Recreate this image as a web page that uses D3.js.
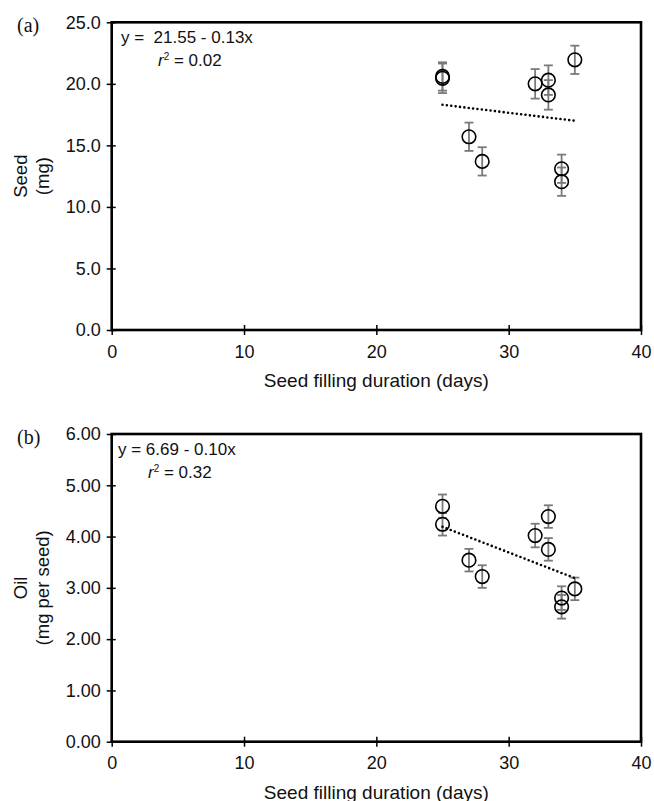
<!DOCTYPE html>
<html>
<head>
<meta charset="utf-8">
<script src="https://cdn.jsdelivr.net/npm/d3@7"></script>
<style>
  html, body { margin: 0; padding: 0; background: #fff; }
  svg { display: block; }
</style>
</head>
<body>
<svg id="chart" width="654" height="801"></svg>
<script>
// Seed filling duration (days) for each genotype / environment
const days = [25, 25, 27, 28, 32, 33, 33, 34, 34, 35];

// Panel (a): seed mass (mg) with standard errors
const seedMg  = [20.6, 20.45, 15.7, 13.7, 20.0, 20.3, 19.1, 13.1, 12.05, 21.95];
const seedErr = [1.15, 1.2, 1.15, 1.15, 1.2, 1.2, 1.2, 1.15, 1.15, 1.15];

// Panel (b): oil content (mg per seed) with standard errors
const oilMg  = [4.59, 4.24, 3.54, 3.22, 4.02, 4.39, 3.75, 2.80, 2.63, 2.98];
const oilErr = [0.23, 0.22, 0.22, 0.22, 0.23, 0.22, 0.22, 0.23, 0.23, 0.22];

// Linear fits printed in each panel
const seedFit = { intercept: 21.55, slope: -0.13, r2: "0.02", eq: "y =  21.55 - 0.13x" };
const oilFit  = { intercept: 6.69,  slope: -0.10, r2: "0.32", eq: "y = 6.69 - 0.10x" };

// Axis ticks
const xTicks = [0, 10, 20, 30, 40];
const seedTicks = [0, 5, 10, 15, 20, 25];
const oilTicks = [0, 1, 2, 3, 4, 5, 6];

const SANS = '"Liberation Sans", Arial, sans-serif';
const SERIF = '"Liberation Serif", "Times New Roman", serif';
const INK = "#111";

const svg = d3.select("#chart");

function panel(cfg) {
  const x = d3.scaleLinear().domain([0, 40]).range([111.7, 641]);
  const y = d3.scaleLinear().domain(cfg.yDomain).range([cfg.bottom, cfg.top]);
  const g = svg.append("g");

  // x axis with ticks crossing the line
  const xa = g.append("g")
    .attr("transform", `translate(0,${cfg.bottom})`)
    .call(d3.axisBottom(x).tickValues(xTicks).tickFormat(d3.format("d"))
      .tickSize(5).tickSizeOuter(0).tickPadding(10));
  xa.selectAll(".tick line").attr("y1", -5).attr("stroke", "#000").attr("stroke-width", 1.5);
  xa.selectAll(".tick text").style("font-size", "18px").style("font-family", SANS).attr("fill", INK);
  xa.select(".domain").remove();

  // y axis
  const ya = g.append("g")
    .attr("transform", `translate(${x(0)},0)`)
    .call(d3.axisLeft(y).tickValues(cfg.yTicks).tickFormat(d3.format(cfg.fmt))
      .tickSize(5).tickSizeOuter(0).tickPadding(6));
  ya.selectAll(".tick line").attr("x1", 4).attr("stroke", "#000").attr("stroke-width", 1.5);
  ya.selectAll(".tick text").style("font-size", "18px").style("font-family", SANS).attr("fill", INK);
  ya.select(".domain").remove();

  // plot frame
  g.append("rect")
    .attr("x", x(0)).attr("y", y(cfg.yDomain[1]))
    .attr("width", x(40) - x(0)).attr("height", y(cfg.yDomain[0]) - y(cfg.yDomain[1]))
    .attr("fill", "none").attr("stroke", "#000").attr("stroke-width", 2.6);

  // error bars
  const cap = 4.5;
  const eb = g.append("g").attr("stroke", "#7a7a7a").attr("stroke-width", 1.8).attr("fill", "none");
  cfg.vals.forEach((v, i) => {
    const cx = x(days[i]);
    const y0 = y(v - cfg.errs[i]), y1 = y(v + cfg.errs[i]);
    eb.append("line").attr("x1", cx).attr("x2", cx).attr("y1", y0).attr("y2", y1);
    eb.append("line").attr("x1", cx - cap).attr("x2", cx + cap).attr("y1", y0).attr("y2", y0);
    eb.append("line").attr("x1", cx - cap).attr("x2", cx + cap).attr("y1", y1).attr("y2", y1);
  });

  // trend line over the observed range
  const fx = d3.extent(days);
  g.append("line")
    .attr("x1", x(fx[0])).attr("y1", y(cfg.fit.intercept + cfg.fit.slope * fx[0]))
    .attr("x2", x(fx[1])).attr("y2", y(cfg.fit.intercept + cfg.fit.slope * fx[1]))
    .attr("stroke", "#000").attr("stroke-width", 2.6)
    .attr("stroke-linecap", "round").attr("stroke-dasharray", "0 4.4");

  // open circle markers
  g.append("g").selectAll("circle").data(cfg.vals).join("circle")
    .attr("cx", (d, i) => x(days[i])).attr("cy", d => y(d)).attr("r", 6.8)
    .attr("fill", "none").attr("stroke", "#000").attr("stroke-width", 1.6);

  // equation and r²
  g.append("text").attr("x", cfg.eqX).attr("y", cfg.top + 21)
    .style("font-size", "17px").style("font-family", SANS).attr("fill", INK)
    .style("white-space", "pre")
    .text(cfg.fit.eq);
  const r = g.append("text").attr("x", cfg.r2X).attr("y", cfg.top + 44)
    .style("font-size", "17px").style("font-family", SANS).attr("fill", INK);
  r.append("tspan").style("font-style", "italic").text("r");
  r.append("tspan").style("font-size", "10px").attr("dy", -6).text("2");
  r.append("tspan").attr("dy", 6).text(" = " + cfg.fit.r2);

  // y axis title (two lines)
  const cy = (cfg.top + cfg.bottom) / 2;
  cfg.yTitle.forEach((t, k) => {
    g.append("text")
      .attr("transform", `translate(${27 + k * 22},${cy}) rotate(-90)`)
      .attr("text-anchor", "middle")
      .style("font-size", "18.5px").style("font-family", SANS).attr("fill", INK)
      .text(t);
  });

  // x axis title
  g.append("text").attr("x", (x(0) + x(40)) / 2).attr("y", cfg.bottom + 57)
    .attr("text-anchor", "middle")
    .style("font-size", "19px").style("font-family", SANS).attr("fill", INK)
    .text("Seed filling duration (days)");

  // panel letter
  g.append("text").attr("x", 17).attr("y", cfg.top + 10)
    .style("font-family", SERIF).style("font-size", "20px").attr("fill", INK)
    .text(cfg.letter);
}

panel({
  top: 22.3, bottom: 330, yDomain: [0, 25], yTicks: seedTicks, fmt: ".1f",
  vals: seedMg, errs: seedErr, fit: seedFit, eqX: 121, r2X: 158,
  yTitle: ["Seed", "(mg)"], letter: "(a)"
});

panel({
  top: 434, bottom: 741.7, yDomain: [0, 6], yTicks: oilTicks, fmt: ".2f",
  vals: oilMg, errs: oilErr, fit: oilFit, eqX: 118, r2X: 148,
  yTitle: ["Oil", "(mg per seed)"], letter: "(b)"
});
</script>
</body>
</html>
